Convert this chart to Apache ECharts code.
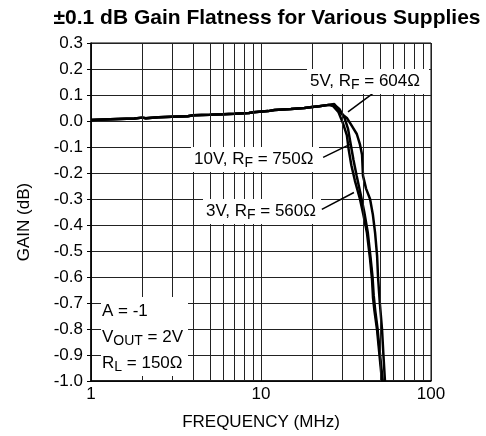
<!DOCTYPE html>
<html>
<head>
<meta charset="utf-8">
<script src="https://cdn.jsdelivr.net/npm/echarts@6/dist/echarts.min.js"></script>
<style>html,body{margin:0;padding:0;background:#fff}#c{width:486px;height:436px}</style>
</head>
<body>
<div id="c"></div>
<script>
// Shared flat region (all supplies overlap)
const flatFreq = [1, 1.3, 1.8, 2, 2.1, 2.5, 3, 3.7, 4, 5, 6, 7, 8.5, 9, 11, 12, 15, 18, 20, 22, 25];
const flatGain = [0.004, 0.007, 0.01, 0.013, 0.011, 0.014, 0.016, 0.018, 0.022, 0.024, 0.026, 0.028, 0.031, 0.034, 0.038, 0.042, 0.046, 0.05, 0.054, 0.057, 0.062];
// Roll-off region per supply
const freq5V  = [27, 29.2, 32, 34.3, 36.6, 38.2, 39.3, 39.8, 41.5, 43.8, 45.5, 46.9, 48.2, 48.8, 50, 51.5, 52.5, 53.6];
const gain5V  = [0.065, 0.032, 0.012, -0.02, -0.05, -0.09, -0.13, -0.21, -0.26, -0.3, -0.36, -0.43, -0.52, -0.6, -0.7, -0.8, -0.9, -1.0];
const freq10V = [27, 29, 31, 32.5, 33.5, 35, 36.5, 38.5, 40.5, 42.5, 44, 45.3, 46, 47, 48.5, 50.5, 52];
const gain10V = [0.063, 0.045, 0.012, -0.03, -0.08, -0.15, -0.21, -0.28, -0.35, -0.43, -0.52, -0.6, -0.67, -0.73, -0.8, -0.92, -1.0];
const freq3V  = [26.5, 28.5, 30.4, 32, 32.8, 34, 35.7, 38.2, 40, 42, 43.8, 45, 45.6, 46.5, 48.1, 50.1, 51.5];
const gain3V  = [0.058, 0.035, -0.01, -0.055, -0.11, -0.17, -0.23, -0.3, -0.36, -0.43, -0.53, -0.61, -0.68, -0.73, -0.8, -0.92, -1.0];
// Axis ticks / grid
const xTickLabels = [1, 10, 100];
const minorFreqGrid = [2, 3, 4, 5, 6, 7, 8, 9, 20, 30, 40, 50, 60, 70, 80, 90];
// Annotation arrows: [fromFreq, fromGain, toFreq, toGain]
const arrow5V  = [48.1, 0.118, 32.5, 0.035];
const arrow10V = [23.2, -0.14, 33.8, -0.088];
const arrow3V  = [22.8, -0.34, 35.2, -0.275];

const FONT = '"Liberation Sans", Arial, sans-serif';

function pairs(fa, ga) { return fa.map((f, i) => [f, ga[i]]); }
function build(fTail, gTail) { return pairs(flatFreq, flatGain).concat(pairs(fTail, gTail)); }

const curveStyle = { color: '#000', width: 2.5 };
const subRich = { s: { fontSize: 14, fontFamily: FONT, lineHeight: 12, verticalAlign: 'bottom', fill: '#000' } };

function label(x, y, text, w) {
  return [
    { type: 'rect', z: 10, shape: { x: x - 3, y: y - 12, width: w, height: 25 }, style: { fill: '#fff' } },
    { type: 'text', z: 11, x: x, y: y, style: { text: text, fontSize: 17, fontFamily: FONT, fill: '#000', lineHeight: 22, verticalAlign: 'middle', rich: subRich } }
  ];
}

const chart = echarts.init(document.getElementById('c'), null, { renderer: 'canvas' });
chart.setOption({
  animation: false,
  backgroundColor: '#fff',
  title: {
    text: '±0.1 dB Gain Flatness for Various Supplies',
    left: 262, textAlign: 'center', top: 3,
    textStyle: { fontSize: 21, fontWeight: 'bold', fontFamily: FONT, color: '#000' }
  },
  grid: { left: 91, right: 55, top: 43, bottom: 55, show: true, borderColor: '#000', borderWidth: 1 },
  xAxis: {
    type: 'log', logBase: 10, min: 1, max: 100,
    name: 'FREQUENCY (MHz)', nameLocation: 'middle', nameGap: 33,
    nameTextStyle: { fontSize: 17, fontFamily: FONT, color: '#000' },
    axisLine: { show: true, onZero: false, lineStyle: { color: '#000', width: 1.5 } },
    axisTick: { show: false },
    axisLabel: { fontSize: 17, fontFamily: FONT, color: '#000', margin: 5,
      formatter: v => (xTickLabels.indexOf(Math.round(v)) >= 0 ? String(Math.round(v)) : '') },
    splitLine: { show: true, lineStyle: { color: '#222', width: 1 } }
  },
  yAxis: {
    type: 'value', min: -1.0, max: 0.3, interval: 0.1,
    name: 'GAIN (dB)', nameLocation: 'middle', nameGap: 58, nameRotate: 90,
    nameTextStyle: { fontSize: 17, fontFamily: FONT, color: '#000', padding: [0, 20, 0, 0] },
    axisLine: { show: true, onZero: false, lineStyle: { color: '#000', width: 1.5 } },
    axisTick: { show: true, inside: false, length: 4, lineStyle: { color: '#000' } },
    axisLabel: { fontSize: 17, fontFamily: FONT, color: '#000', margin: 8,
      formatter: v => (Math.abs(v) < 1e-9 ? '0.0' : v.toFixed(1)) },
    splitLine: { show: true, lineStyle: { color: '#222', width: 1 } }
  },
  graphic: [].concat(
    label(310, 81, '5V, R{s|F} = 604Ω', 122),
    label(194, 159, '10V, R{s|F} = 750Ω', 128),
    label(206, 211, '3V, R{s|F} = 560Ω', 118),
    [
      { type: 'rect', z: 10, shape: { x: 101, y: 297, width: 87, height: 79 }, style: { fill: '#fff' } },
      { type: 'text', z: 11, x: 102, y: 311, style: { text: 'A = -1', fontSize: 17, fontFamily: FONT, fill: '#000', lineHeight: 22, verticalAlign: 'middle' } },
      { type: 'text', z: 11, x: 102, y: 337, style: { text: 'V{s|OUT} = 2V', fontSize: 17, fontFamily: FONT, fill: '#000', lineHeight: 22, verticalAlign: 'middle', rich: subRich } },
      { type: 'text', z: 11, x: 102, y: 363, style: { text: 'R{s|L} = 150Ω', fontSize: 17, fontFamily: FONT, fill: '#000', lineHeight: 22, verticalAlign: 'middle', rich: subRich } }
    ]
  ),
  series: [
    {
      name: 'grid', type: 'line', data: [], z: 1, silent: true,
      markLine: {
        silent: true, symbol: ['none', 'none'], animation: false,
        label: { show: false },
        lineStyle: { color: '#222', width: 1, type: 'solid' },
        data: minorFreqGrid.map(f => ({ xAxis: f }))
      }
    },
    { name: '5V', type: 'line', data: build(freq5V, gain5V), showSymbol: false, lineStyle: curveStyle, z: 3 },
    { name: '10V', type: 'line', data: build(freq10V, gain10V), showSymbol: false, lineStyle: curveStyle, z: 3 },
    { name: '3V', type: 'line', data: build(freq3V, gain3V), showSymbol: false, lineStyle: curveStyle, z: 3 },
    {
      name: 'arrows', type: 'line', data: [], z: 12, silent: true,
      markLine: {
        silent: true, animation: false, symbol: ['none', 'triangle'], symbolSize: [0, 11],
        label: { show: false },
        lineStyle: { color: '#000', width: 1.5, type: 'solid' },
        data: [arrow5V, arrow10V, arrow3V].map(a => [{ coord: [a[0], a[1]] }, { coord: [a[2], a[3]] }])
      }
    }
  ]
});
</script>
</body>
</html>
